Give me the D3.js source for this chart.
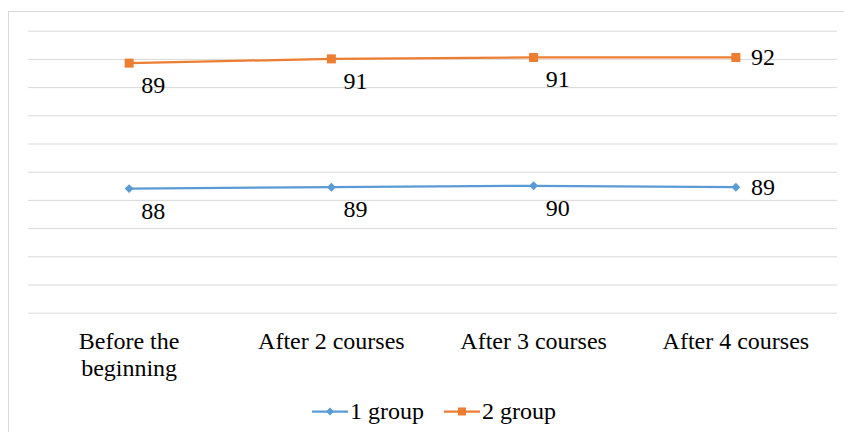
<!DOCTYPE html>
<html>
<head>
<meta charset="utf-8">
<script src="https://cdn.jsdelivr.net/npm/d3@7"></script>
<style>
  body { margin: 0; background: #fff; }
  .grid line { stroke: #d9d9d9; stroke-width: 1; }
  .grid .domain { display: none; }
</style>
</head>
<body>
<svg id="chart" width="844" height="432"></svg>
<script>
// chart data
var categories = ['Before the beginning', 'After 2 courses', 'After 3 courses', 'After 4 courses'];
var seriesNames = ['1 group', '2 group'];
var group1 = [88, 89, 90, 89];
var group2 = [89, 91, 91, 92];
var colors = ['#5b9bd5', '#ed7d31'];
var yTicks = [0, 20, 40, 60, 80, 100, 120, 140, 160, 180, 200];

var FONT = "'Liberation Serif', 'Tinos', 'DejaVu Serif', 'Times New Roman', serif";
var svg = d3.select('#chart');
var margin = { left: 28, right: 7, top: 30.7, bottom: 119.3 };
var width = 844, height = 432;

// outer chart frame
svg.append('rect')
  .attr('x', 8.5).attr('y', 11.5)
  .attr('width', 850).attr('height', 440)
  .attr('fill', 'none').attr('stroke', '#d9d9d9').attr('stroke-width', 1);

var x = d3.scaleBand().domain(categories).range([margin.left, width - margin.right]);
var y = d3.scaleLinear().domain([0, 200]).range([height - margin.bottom, margin.top]);

svg.append('g').attr('class', 'grid')
  .attr('transform', 'translate(' + margin.left + ',0)')
  .call(d3.axisLeft(y).tickValues(yTicks).tickSize(-(width - margin.right - margin.left)).tickFormat(''));

// stacked line data
var rows = categories.map(function(c, i) {
  return { cat: c, g1: group1[i], g2: group2[i] };
});
var stacked = d3.stack().keys(['g1', 'g2'])(rows);
var raw = [group1, group2];

var cx = function(d) { return x(d.data.cat) + x.bandwidth() / 2; };
var line = d3.line().x(cx).y(function(d) { return y(d[1]); });

stacked.forEach(function(s, k) {
  var g = svg.append('g');
  g.append('path').datum(s)
    .attr('d', line)
    .attr('fill', 'none')
    .attr('stroke', colors[k])
    .attr('stroke-width', 2.25);

  if (k === 0) {
    g.selectAll('path.m').data(s).enter().append('path')
      .attr('d', d3.symbol(d3.symbolDiamond2, 50)())
      .attr('transform', function(d) { return 'translate(' + cx(d) + ',' + y(d[1]) + ')'; })
      .attr('fill', colors[k]);
  } else {
    g.selectAll('rect.m').data(s).enter().append('rect')
      .attr('x', function(d) { return cx(d) - 4.5; })
      .attr('y', function(d) { return y(d[1]) - 4.5; })
      .attr('width', 9).attr('height', 9)
      .attr('fill', colors[k]);
  }

  g.selectAll('text').data(s).enter().append('text')
    .attr('x', function(d, i) { return i === 3 ? cx(d) + 15 : cx(d) + 24; })
    .attr('y', function(d, i) { return i === 3 ? y(d[1]) + 8 : y(d[1]) + 30; })
    .attr('text-anchor', function(d, i) { return i === 3 ? 'start' : 'middle'; })
    .style('font-family', FONT)
    .attr('font-size', 24)
    .attr('fill', '#000')
    .text(function(d, i) { return raw[k][i]; });
});

// category labels
var catLines = { 'Before the beginning': ['Before the', 'beginning'] };
categories.forEach(function(c) {
  var t = svg.append('text')
    .attr('x', x(c) + x.bandwidth() / 2)
    .attr('y', 349)
    .attr('text-anchor', 'middle')
    .style('font-family', FONT)
    .attr('font-size', 24)
    .attr('fill', '#000');
  (catLines[c] || [c]).forEach(function(l, j) {
    t.append('tspan').attr('x', x(c) + x.bandwidth() / 2).attr('dy', j === 0 ? 0 : 26.5).text(l);
  });
});

// legend
var legendX = [312, 444];
seriesNames.forEach(function(n, k) {
  var lg = svg.append('g').attr('transform', 'translate(' + legendX[k] + ',411.5)');
  lg.append('line').attr('x1', 0).attr('x2', 36)
    .attr('stroke', colors[k]).attr('stroke-width', 2.25);
  if (k === 0) {
    lg.append('path').attr('d', d3.symbol(d3.symbolDiamond2, 40)())
      .attr('transform', 'translate(18,0)').attr('fill', colors[k]);
  } else {
    lg.append('rect').attr('x', 14).attr('y', -4).attr('width', 8).attr('height', 8)
      .attr('fill', colors[k]);
  }
  lg.append('text').attr('x', 38).attr('y', 7.5)
    .style('font-family', FONT)
    .attr('font-size', 24).attr('fill', '#000').text(n);
});
</script>
</body>
</html>
